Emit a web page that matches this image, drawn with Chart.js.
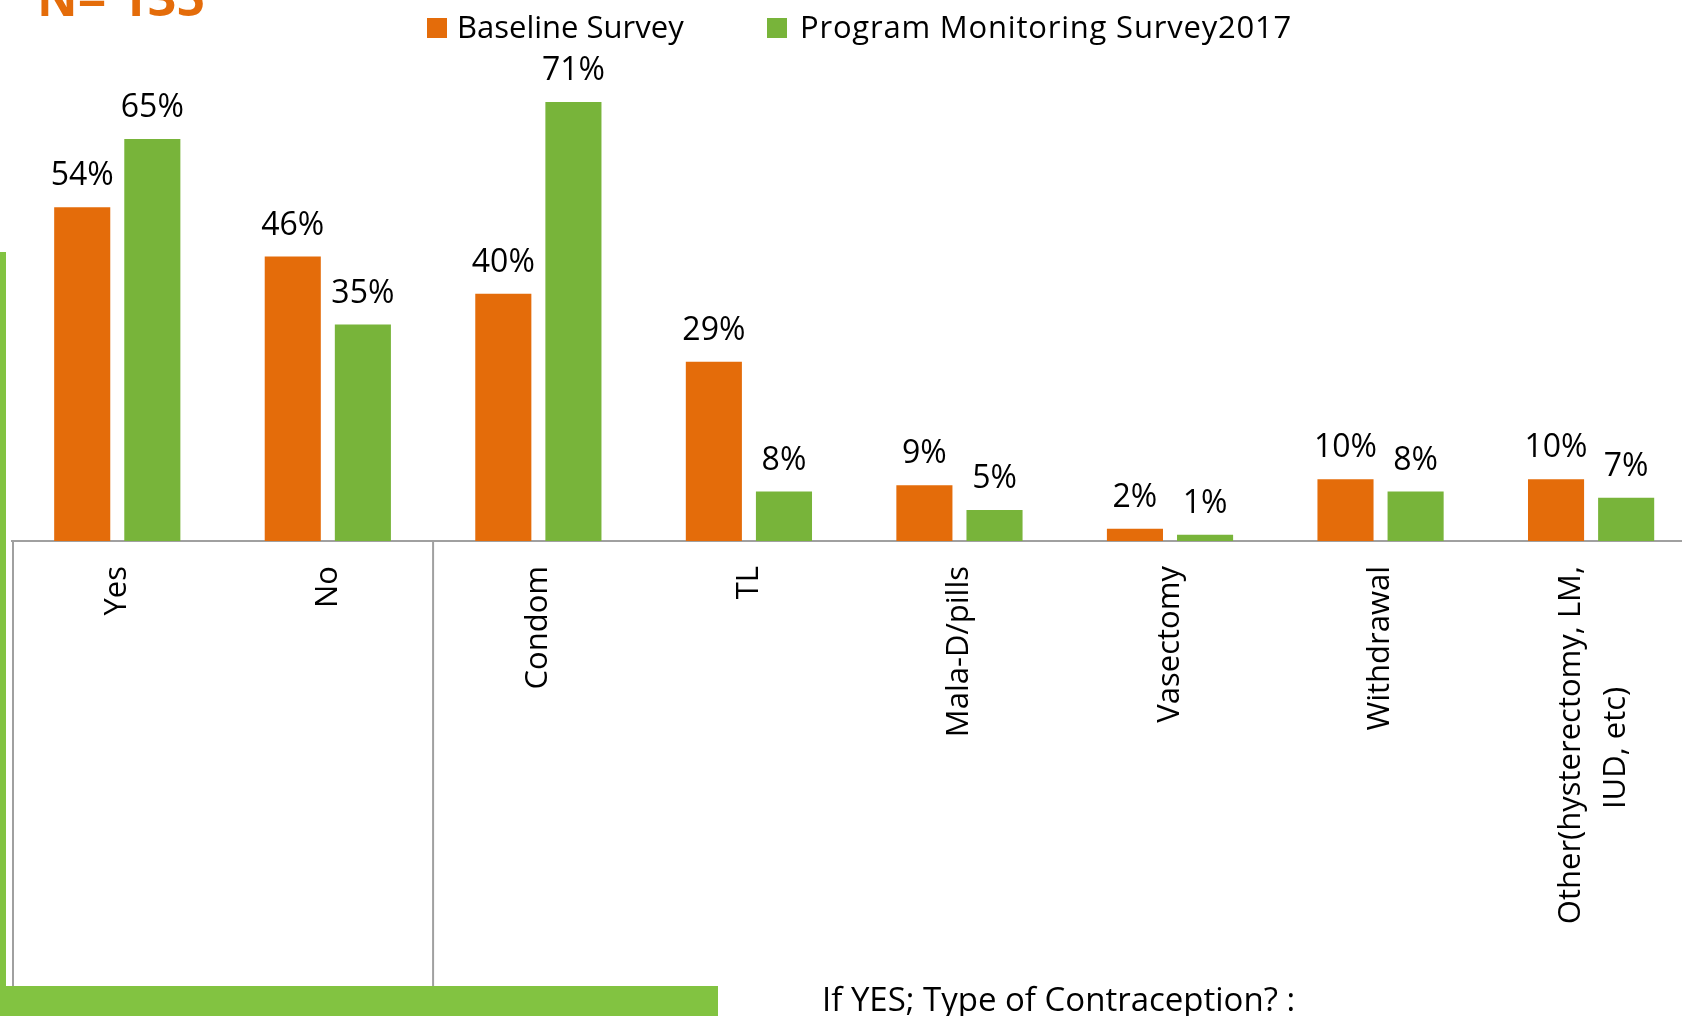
<!DOCTYPE html>
<html>
<head>
<meta charset="utf-8">
<script src="https://cdn.jsdelivr.net/npm/chart.js@4.4.1/dist/chart.umd.min.js"></script>
<style>
  html, body { margin: 0; padding: 0; overflow: hidden; background: #fff; }
  body { width: 1682px; height: 1016px; position: relative; font-family: 'Open Sans', sans-serif; }
  #chart { position: absolute; left: 0; top: 0; }
  .title { position: absolute; left: 37px; top: -28px; font-size: 50px; line-height: 50px; font-weight: bold; color: #E46C0A; white-space: nowrap; }
  .leg-box { position: absolute; top: 18px; width: 20px; height: 20px; }
  .leg-txt { position: absolute; top: 11px; font-size: 31px; line-height: 31px; color: #000; white-space: nowrap; }
  .green-v { position: absolute; left: 0; top: 252px; width: 6px; height: 764px; background: #82C341; }
  .green-h { position: absolute; left: 0; top: 986px; width: 718px; height: 30px; background: #82C341; }
  .caption { position: absolute; left: 822px; top: 982px; font-size: 33px; line-height: 33px; color: #000; white-space: nowrap; }
</style>
</head>
<body>
<canvas id="chart" width="1706" height="1016"></canvas>
<div class="title">N= 135</div>
<div class="leg-box" style="left:427px;background:#E46C0A"></div>
<div class="leg-txt" style="left:457px">Baseline Survey</div>
<div class="leg-box" style="left:767px;background:#78B43A"></div>
<div class="leg-txt" style="left:800px;letter-spacing:0.8px">Program Monitoring Survey2017</div>
<div class="green-v"></div>
<div class="green-h"></div>
<div class="caption">If YES; Type of Contraception? :</div>

<script>
// categorias y valores (%)
const categories = [
  'Yes', 'No', 'Condom', 'TL', 'Mala-D/pills', 'Vasectomy', 'Withdrawal',
  ['Other(hysterectomy, LM,', 'IUD, etc)               ']
];
const baselineValues = [54, 46, 40, 29, 9, 2, 10, 10];
const monitoringValues = [65, 35, 71, 8, 5, 1, 8, 7];
const seriesNames = ['Baseline Survey', 'Program Monitoring Survey2017'];

Chart.defaults.font.family = "'Open Sans', sans-serif";
Chart.defaults.color = '#000';

// etiquetas de porcentaje encima de cada barra
const valueLabels = {
  id: 'valueLabels',
  afterDatasetsDraw(chart) {
    const ctx = chart.ctx;
    ctx.save();
    ctx.font = "32px 'Open Sans', sans-serif";
    ctx.fillStyle = '#000';
    ctx.textAlign = 'center';
    ctx.textBaseline = 'middle';
    chart.data.datasets.forEach((ds, i) => {
      chart.getDatasetMeta(i).data.forEach((bar, j) => {
        ctx.fillText(ds.data[j] + '%', bar.x, bar.y - 31);
      });
    });
    ctx.restore();
  }
};

// centrar la etiqueta de dos lineas sobre su categoria
const centerMultiline = {
  id: 'centerMultiline',
  beforeDraw(chart) {
    const x = chart.scales.x;
    const items = x.getLabelItems();
    items.forEach(item => {
      if (Array.isArray(item.label) && !item._shifted) {
        const lh = item.font.lineHeight;
        item.options.translation[0] -= lh * (item.label.length - 1) / 2 - 3;
        item._shifted = true;
      }
    });
  }
};

// lineas del cuadro de categorias (Yes/No separado del resto)
const groupLines = {
  id: 'groupLines',
  afterDraw(chart) {
    const ctx = chart.ctx;
    const x = chart.scales.x;
    const top = chart.chartArea.bottom;
    const divider = (x.getPixelForValue(1) + x.getPixelForValue(2)) / 2;
    ctx.save();
    ctx.strokeStyle = '#A0A0A0';
    ctx.lineWidth = 2;
    [x.left + 1, divider].forEach(px => {
      ctx.beginPath();
      ctx.moveTo(px, top);
      ctx.lineTo(px, chart.height);
      ctx.stroke();
    });
    ctx.restore();
  }
};

new Chart(document.getElementById('chart'), {
  type: 'bar',
  data: {
    labels: categories,
    datasets: [
      { label: seriesNames[0], data: baselineValues, backgroundColor: '#E46C0A' },
      { label: seriesNames[1], data: monitoringValues, backgroundColor: '#78B43A' }
    ]
  },
  options: {
    responsive: false,
    animation: false,
    devicePixelRatio: 1,
    layout: { padding: { left: 12, right: 0, top: 0, bottom: 0 } },
    datasets: {
      bar: { categoryPercentage: 0.666, barPercentage: 0.8, borderWidth: 0 }
    },
    plugins: {
      legend: { display: false },
      tooltip: { enabled: false }
    },
    scales: {
      x: {
        grid: { display: false, drawTicks: false },
        border: { display: true, color: '#A0A0A0', width: 2 },
        ticks: {
          autoSkip: false,
          minRotation: 90,
          maxRotation: 90,
          padding: 25,
          color: '#000',
          font: { size: 31, lineHeight: 1.45 }
        },
        afterFit(scale) { scale.height = 475; }
      },
      y: {
        display: false,
        min: 0,
        max: 87.5
      }
    }
  },
  plugins: [valueLabels, centerMultiline, groupLines]
});
</script>
</body>
</html>
